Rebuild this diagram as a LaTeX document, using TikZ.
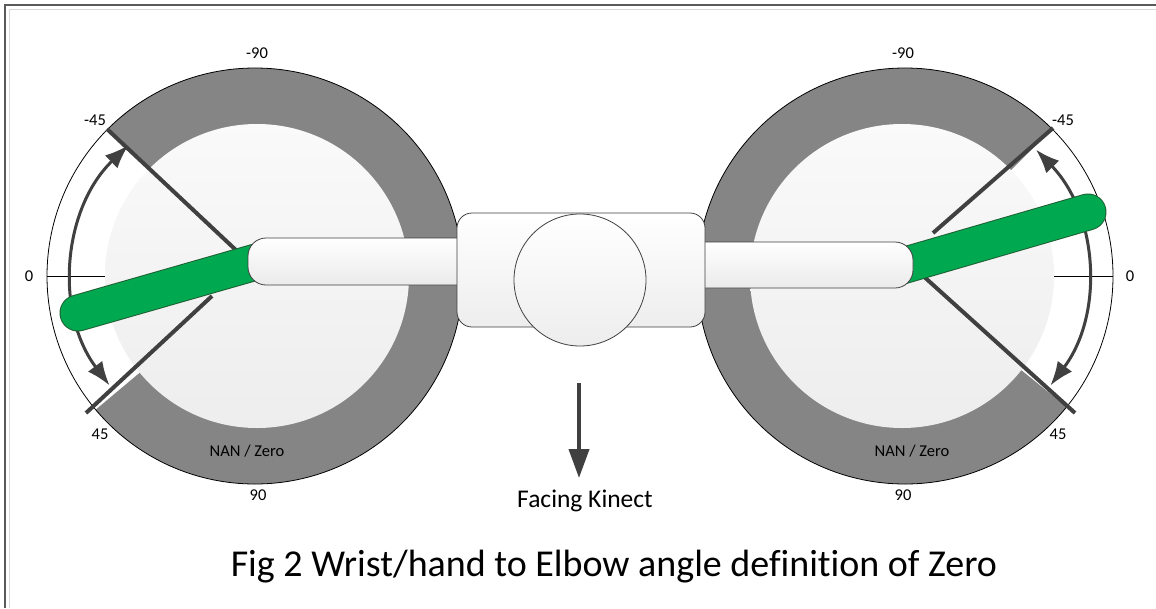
\documentclass[tikz,border=0pt]{standalone}
\usepackage{fontspec}
\setmainfont{Carlito}[Ligatures=NoCommon]
\usetikzlibrary{arrows.meta,calc}
\definecolor{ringgray}{HTML}{858585}
\definecolor{darkline}{HTML}{404040}
\definecolor{armgreen}{HTML}{00A94F}
\definecolor{armedge}{HTML}{1F5F33}
\definecolor{frameDark}{HTML}{5A5A5A}
\definecolor{frameLight}{HTML}{D8D8D8}
\begin{document}
\begin{tikzpicture}[x=1pt,y=1pt,
  lbl/.style={anchor=base,inner sep=0pt,font=\fontsize{16.5}{18}\selectfont},
  ring/.style={fill=ringgray},
  rim/.style={draw=black,line width=0.8pt},
  disc/.style={top color=white!98!black,bottom color=white!93!black,draw=none},
  tick/.style={draw=black,line width=0.7pt},
  limitline/.style={draw=darkline,line width=4pt},
  rangearrow/.style={draw=darkline,line width=3pt,{Latex[length=24pt,width=18pt]}-{Latex[length=24pt,width=18pt]}},
  armouter/.style={draw=armedge,line width=37pt,line cap=round},
  arminner/.style={draw=armgreen,line width=35pt,line cap=round},
  bar/.style={draw=darkline,line width=0.8pt,rounded corners=18pt,top color=white,bottom color=white!92!black},
  body/.style={draw=darkline,line width=0.8pt,inner sep=0pt,top color=white,bottom color=white!93!black}
]
\useasboundingbox (0,0) rectangle (1156,-608);
\fill[white] (0,0) rectangle (1156,-608);
% page frame
\draw[frameDark,line width=1.4pt] (5,-608) -- (5,-5) -- (1156,-5);
\draw[frameLight,line width=1pt] (9,-608) -- (9,-9) -- (1156,-9);

% ---------- left dial ----------
\coordinate (L) at (255,-276);
\coordinate (Li) at (257,-276);
\fill[white] (L) circle[radius=208];
\fill[ring] (L) -- ($(L)+(135:208)$) arc[start angle=135,end angle=-140,radius=208] -- cycle;
\draw[rim] (L) circle[radius=208];
\shade[disc] (Li) circle[radius=152];
\draw[tick] ($(L)+(180:208)$) -- ($(Li)+(180:152)$);
\coordinate (LupA) at (107,-129);
\coordinate (LupB) at (238,-252);
\coordinate (LloA) at (86,-413);
\coordinate (LloB) at (212,-296);
\draw[limitline] (LupA) -- (LupB);
\draw[limitline] (LloA) -- (LloB);
\draw[rangearrow] ($(L)+(134:182)$) arc[start angle=134,end angle=217,radius=182];

% ---------- right dial ----------
\coordinate (R) at (905,-276);
\coordinate (Ri) at (902,-276);
\fill[white] (R) circle[radius=208];
\fill[ring] (R) -- ($(R)+(45:208)$) arc[start angle=45,end angle=321,radius=208] -- cycle;
\draw[rim] (R) circle[radius=208];
\shade[disc] (Ri) circle[radius=152];
\draw[tick] ($(R)+(0:208)$) -- ($(Ri)+(0:152)$);
\coordinate (RupA) at (1053,-128);
\coordinate (RupB) at (933,-233);
\coordinate (RloA) at (1075,-413);
\coordinate (RloB) at (921,-274);
\draw[limitline] (RupA) -- (RupB);
\draw[limitline] (RloA) -- (RloB);
\draw[rangearrow] ($(R)+(44:182)$) arc[start angle=44,end angle=-37,radius=182];

% ---------- forearms (green) ----------
\coordinate (LhandA) at (78,-313);
\coordinate (LhandB) at (256,-262);
\coordinate (RhandA) at (1088,-212);
\coordinate (RhandB) at (902,-266);
\draw[armouter] (LhandA) -- (LhandB);
\draw[arminner] (LhandA) -- (LhandB);
\draw[armouter] (RhandA) -- (RhandB);
\draw[arminner] (RhandA) -- (RhandB);

% ---------- upper arms (white bars) ----------
\draw[bar] (248,-238) rectangle (480,-285);
\draw[bar] (680,-242) rectangle (913,-288);

% ---------- body and head ----------
\node[body,rounded corners=15pt,minimum width=248pt,minimum height=114pt] (torso) at (581,-270) {};
\node[body,circle,minimum size=132pt] (head) at (580,-280) {};

% ---------- facing arrow ----------
\coordinate (fstart) at (579,-383);
\coordinate (ftip) at (579,-478);
\draw[darkline,line width=4pt,-{Triangle[length=29pt,width=20pt]}] (fstart) -- (ftip);
\node[anchor=base,inner sep=0pt,font=\fontsize{25.5}{28}\selectfont] (facing) at (585,-507) {Facing Kinect};

% ---------- labels ----------
\node[lbl] (lm90) at (257,-58) {-90};
\node[lbl] (lm45) at (95,-125) {-45};
\node[lbl] (lz) at (29,-281) {0};
\node[lbl] (lp45) at (100,-439) {45};
\node[lbl] (lnan) at (247,-456) {NAN / Zero};
\node[lbl] (lp90) at (258,-500) {90};
\node[lbl] (rm90) at (903,-58) {-90};
\node[lbl] (rm45) at (1063,-125) {-45};
\node[lbl] (rz) at (1130,-281) {0};
\node[lbl] (rp45) at (1058,-439) {45};
\node[lbl] (rnan) at (912,-456) {NAN / Zero};
\node[lbl] (rp90) at (903,-500) {90};

% ---------- caption ----------
\node[anchor=base,inner sep=0pt,font=\fontsize{38}{42}\selectfont] (caption) at (614,-576) {Fig 2 Wrist/hand to Elbow angle definition of Zero};
\end{tikzpicture}
\end{document}
